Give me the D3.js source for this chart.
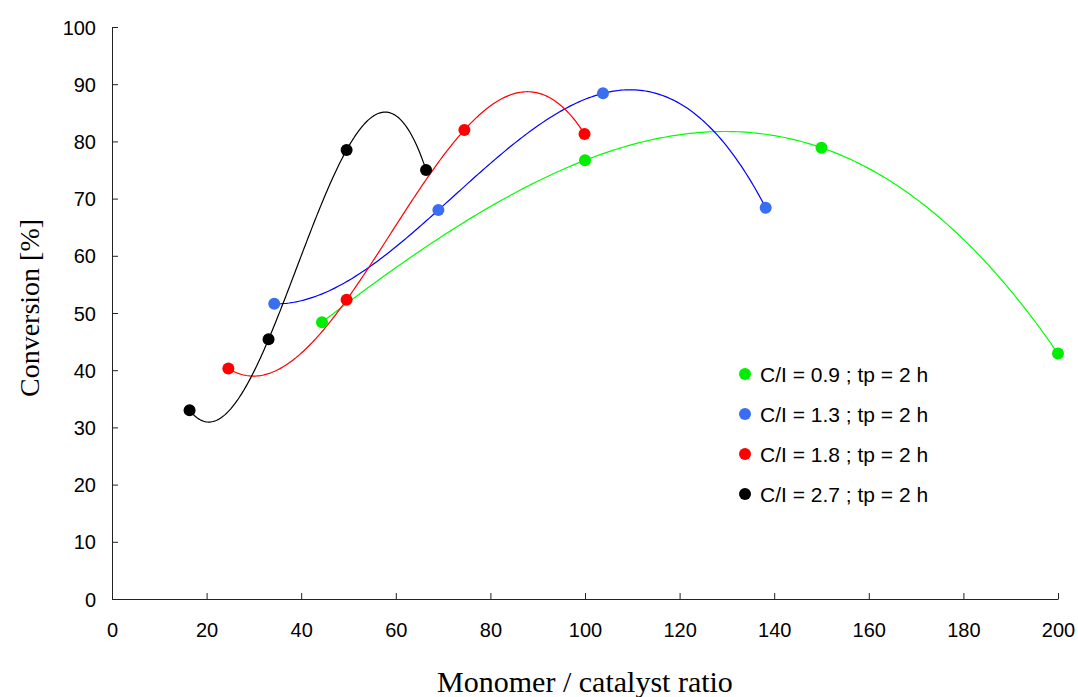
<!DOCTYPE html>
<html>
<head>
<meta charset="utf-8">
<script src="https://cdn.jsdelivr.net/npm/d3@7"></script>
<style>
  body { margin: 0; background: #fff; }
  .axis text { font-family: "Liberation Sans", Arial, sans-serif; font-size: 20px; fill: #000; }
  .axis path, .axis line { stroke: #222; stroke-width: 1; }
  .title { font-family: "Liberation Serif", "Times New Roman", serif; fill: #000; }
  .legend text { font-family: "Liberation Sans", Arial, sans-serif; font-size: 21px; fill: #000; }
</style>
</head>
<body>
<div id="chart"></div>
<script>
// series
var seriesNames = ["C/I = 0.9 ; tp = 2 h", "C/I = 1.3 ; tp = 2 h", "C/I = 1.8 ; tp = 2 h", "C/I = 2.7 ; tp = 2 h"];
var ratioGreen = [44.4, 100, 150, 200];
var convGreen  = [48.4, 76.7, 78.9, 42.9];
var ratioBlue  = [34.3, 69.0, 103.8, 138.2];
var convBlue   = [51.6, 68.0, 88.4, 68.4];
var ratioRed   = [24.6, 49.6, 74.5, 99.9];
var convRed    = [40.3, 52.3, 82.0, 81.3];
var ratioBlack = [16.4, 33.1, 49.6, 66.4];
var convBlack  = [33.0, 45.4, 78.5, 75.0];
var xTicks = [0, 20, 40, 60, 80, 100, 120, 140, 160, 180, 200];
var yTicks = [0, 10, 20, 30, 40, 50, 60, 70, 80, 90, 100];

var lineColours = ["#00ff00", "#0000ff", "#ff0000", "#000000"];
var dotColours  = ["#00ee00", "#3a6ef2", "#ff0000", "#000000"];

var width = 1078, height = 697,
    margin = { top: 27, right: 20, bottom: 98, left: 112 },
    w = 1058 - margin.left,
    h = 599 - margin.top;

var series = [
  { x: ratioGreen, y: convGreen },
  { x: ratioBlue, y: convBlue },
  { x: ratioRed, y: convRed },
  { x: ratioBlack, y: convBlack }
];

var svg = d3.select('#chart').append('svg')
  .attr('width', width)
  .attr('height', height);

var g = svg.append('g')
  .attr('transform', 'translate(' + margin.left + ',' + margin.top + ')');

var x = d3.scaleLinear().domain([0, 200]).range([0, w]);
var y = d3.scaleLinear().domain([0, 100]).range([h, 0]);

// axes, ticks pointing inward
g.append('g').attr('class', 'axis')
  .attr('transform', 'translate(0,' + h + ')')
  .call(d3.axisBottom(x).tickValues(xTicks).tickSizeInner(-6).tickSizeOuter(0).tickPadding(24));

g.append('g').attr('class', 'axis')
  .call(d3.axisLeft(y).tickValues(yTicks).tickSizeInner(-6).tickSizeOuter(0).tickPadding(16))
  .selectAll('text').attr('dy', '0.35em');

// polynomial trendline (order 3) through the four points, like the spreadsheet did
function trend(xs, ys) {
  return function(t) {
    var s = 0;
    for (var i = 0; i < xs.length; i++) {
      var p = ys[i];
      for (var j = 0; j < xs.length; j++) {
        if (j !== i) p *= (t - xs[j]) / (xs[i] - xs[j]);
      }
      s += p;
    }
    return s;
  };
}

var line = d3.line()
  .x(function(d) { return x(d[0]); })
  .y(function(d) { return y(d[1]); });

series.forEach(function(s, k) {
  var f = trend(s.x, s.y);
  var lo = s.x[0], hi = s.x[s.x.length - 1];
  var pts = d3.range(0, 201).map(function(i) {
    var t = lo + (hi - lo) * i / 200;
    return [t, f(t)];
  });
  g.append('path')
    .datum(pts)
    .attr('fill', 'none')
    .attr('stroke', lineColours[k])
    .attr('stroke-width', 1.2)
    .attr('d', line);
});

series.forEach(function(s, k) {
  g.append('g').selectAll('circle')
    .data(s.x.map(function(v, i) { return [v, s.y[i]]; }))
    .enter().append('circle')
    .attr('cx', function(d) { return x(d[0]); })
    .attr('cy', function(d) { return y(d[1]); })
    .attr('r', 6)
    .attr('fill', dotColours[k]);
});

// legend
var legend = svg.append('g').attr('class', 'legend')
  .attr('transform', 'translate(745,374)');
seriesNames.forEach(function(name, k) {
  var row = legend.append('g').attr('transform', 'translate(0,' + (k * 40) + ')');
  row.append('circle').attr('r', 6).attr('fill', dotColours[k]);
  row.append('text').attr('x', 15).attr('y', 7.5).text(name);
});

// axis titles
svg.append('text').attr('class', 'title')
  .attr('x', 585).attr('y', 692)
  .attr('text-anchor', 'middle')
  .style('font-size', '30px')
  .text('Monomer / catalyst ratio');

svg.append('text').attr('class', 'title')
  .attr('transform', 'translate(38.5,308) rotate(-90)')
  .attr('text-anchor', 'middle')
  .style('font-size', '28px')
  .text('Conversion [%]');
</script>
</body>
</html>
